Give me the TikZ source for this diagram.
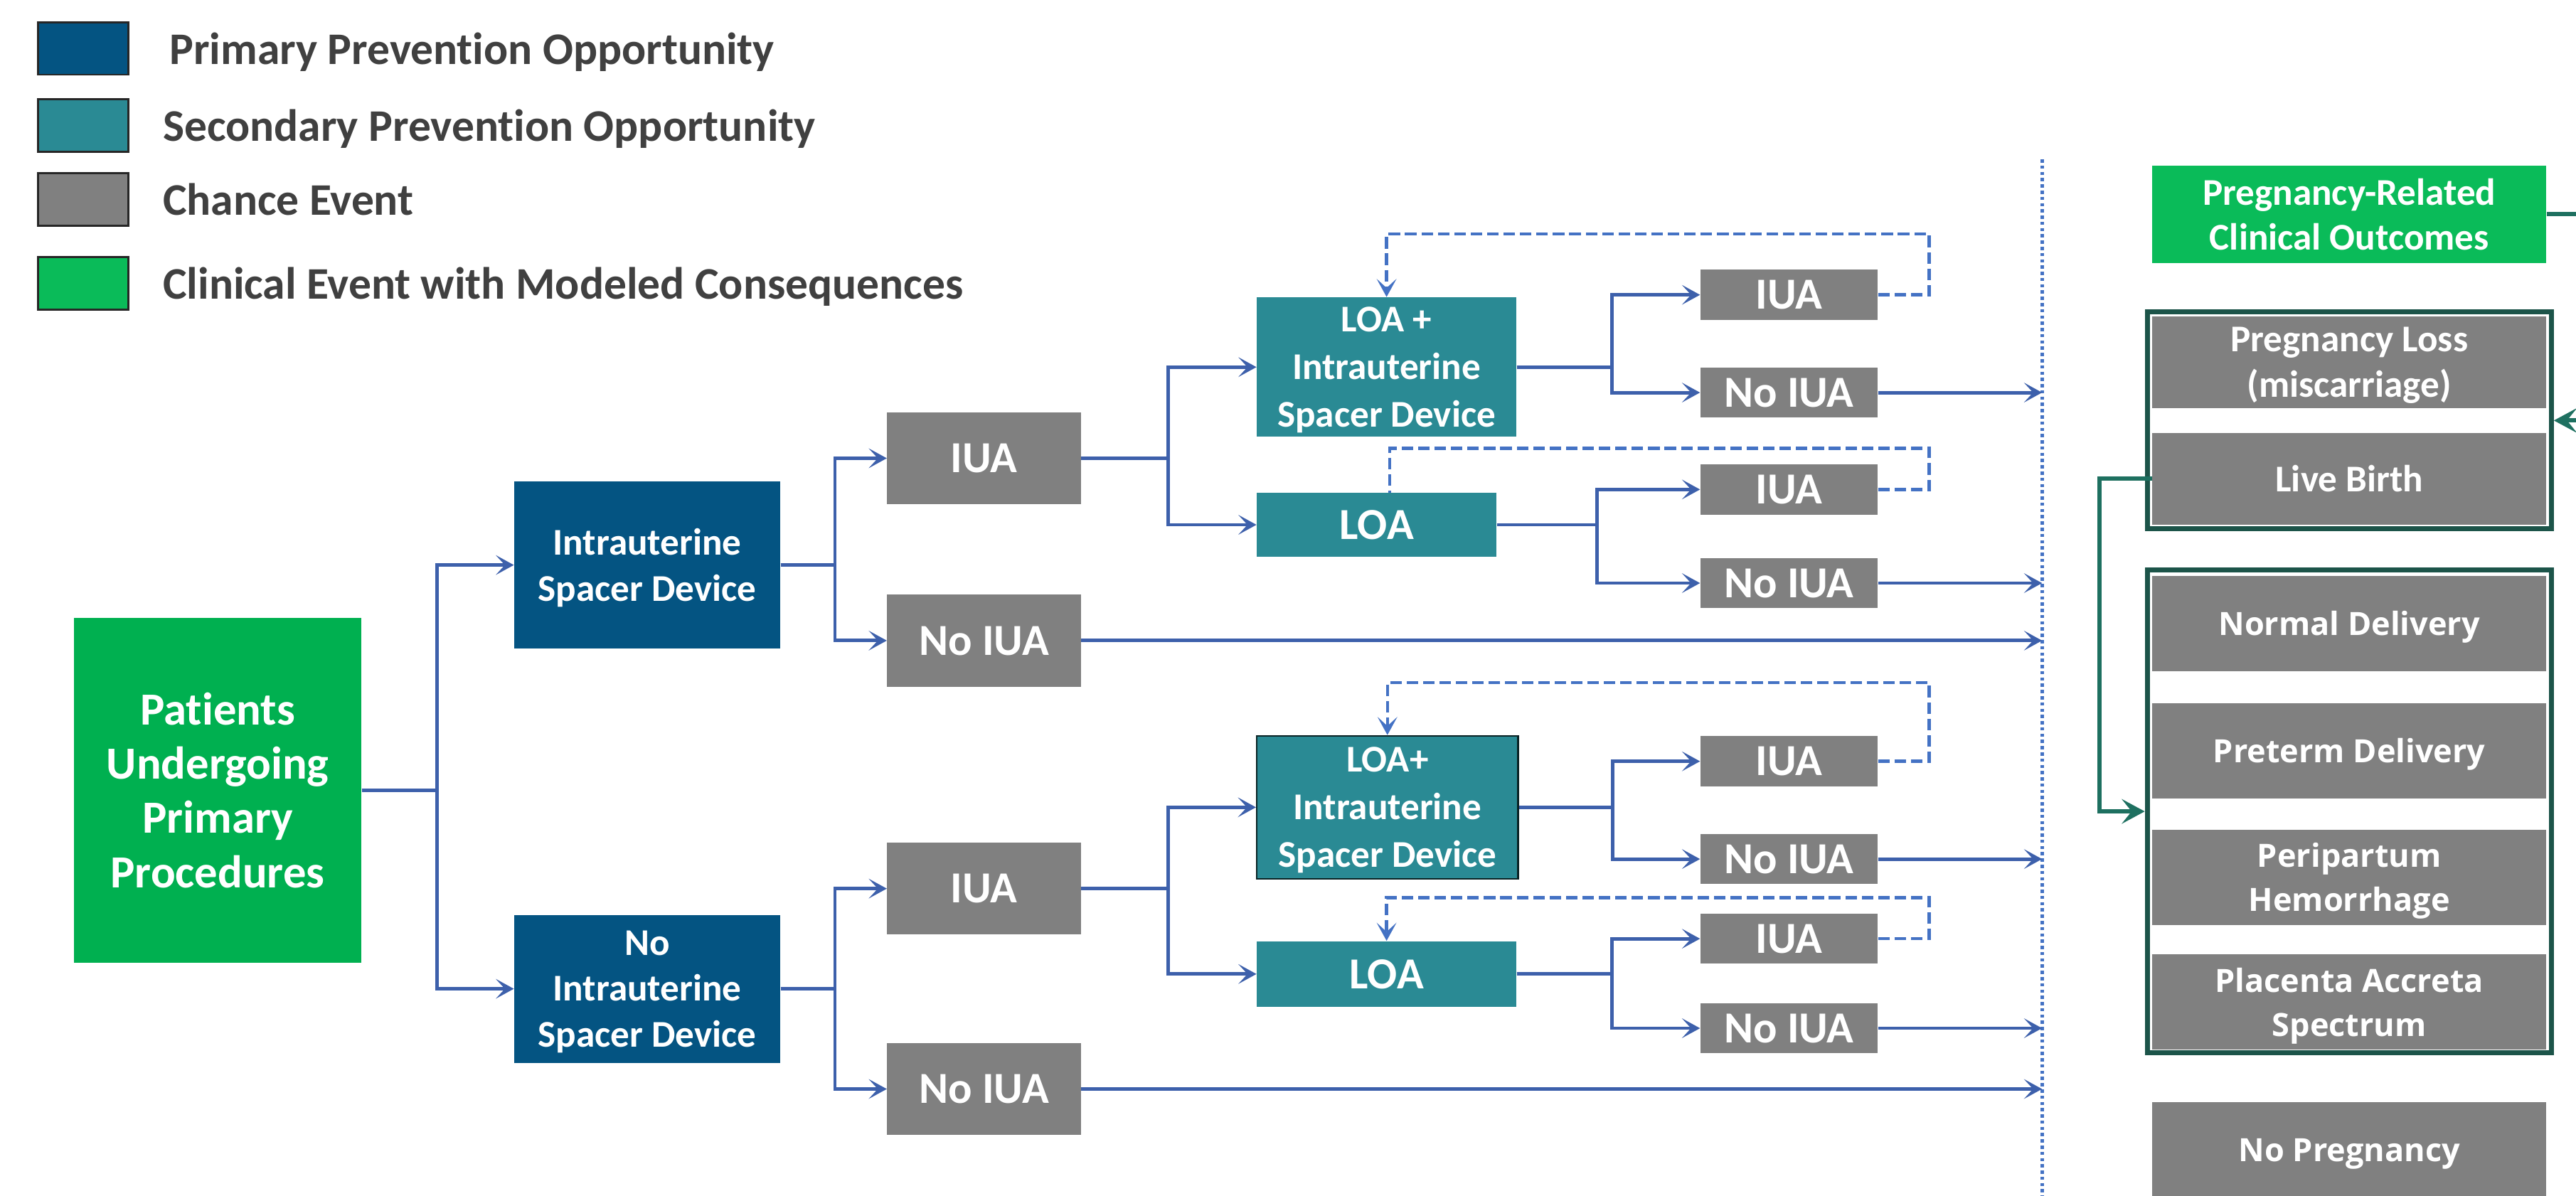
\documentclass[tikz,border=0pt]{standalone}
\usepackage{fontspec}
\usepackage{xcolor}
\usepackage{tikz}
\setmainfont{Carlito}[Ligatures=NoCommon]
\newfontfamily\wideface{Open Sans}
\usetikzlibrary{arrows.meta,shapes,calc}

\definecolor{primblue}{RGB}{4,84,130}
\definecolor{secteal}{RGB}{42,138,148}
\definecolor{chancegray}{RGB}{128,128,128}
\definecolor{clingreen}{RGB}{0,176,80}
\definecolor{lightgreen}{RGB}{10,187,89}
\definecolor{linkblue}{RGB}{61,96,171}
\definecolor{loopblue}{RGB}{68,114,196}
\definecolor{darkteal}{RGB}{28,84,73}
\definecolor{linkteal}{RGB}{30,112,96}
\definecolor{legtext}{RGB}{64,64,64}

\begin{document}
\begin{tikzpicture}[x=1pt,y=-1pt]
    \tikzset{box/.style = {shape=rectangle,inner sep=0pt,align=center,text=white,text depth=0pt}}
    \tikzset{primary/.style = {box,fill=primblue,minimum width=162,font=\fontsize{23}{28}\selectfont\bfseries}}
    \tikzset{secondary/.style = {box,fill=secteal,font=\fontsize{23}{29}\selectfont\bfseries}}
    \tikzset{chance/.style = {box,fill=chancegray,font=\fontsize{27}{32}\selectfont\bfseries}}
    \tikzset{outcome/.style = {box,fill=chancegray,minimum width=240,minimum height=58,font=\wideface\fontsize{19.5}{27}\selectfont\bfseries}}
    \tikzset{legbox/.style = {shape=rectangle,draw=black!85,line width=1.2pt,minimum width=55,minimum height=32}}
    \tikzset{legtext/.style = {text=legtext,inner sep=0pt,anchor=west,text depth=0pt,font=\fontsize{27.5}{32}\selectfont\bfseries}}
    \tikzset{group/.style = {shape=rectangle,draw=darkteal,line width=3pt,minimum width=246}}
    \tikzset{edge/.style = {draw=linkblue,line width=2.1pt,-{Stealth[length=11pt,width=12pt,inset=5.5pt]}}}
    \tikzset{back/.style = {draw=loopblue,line width=1.9pt,dash pattern=on 7pt off 3pt}}
    \tikzset{tealedge/.style = {draw=linkteal,line width=2.6pt,-{Stealth[length=14pt,width=15pt,inset=6pt]}}}

    \useasboundingbox (0,0) rectangle (1568,728);

    % legend
    \foreach \c/\x/\y/\t [count=\i] in {primblue/103/29.5/Primary Prevention Opportunity,
                                       secteal/99/76.5/Secondary Prevention Opportunity,
                                       chancegray/99/121.5/Chance Event,
                                       lightgreen/99/172.5/Clinical Event with Modeled Consequences}
    {
      \node[legbox,fill=\c] (lb\i) at (50.5,\y) {};
      \node[legtext] (lt\i) at (\x,\y) {\t};
    }

    % tree
    \node[box,fill=clingreen,minimum width=175,minimum height=210,font=\fontsize{28}{33}\selectfont\bfseries] (pat) at (132.5,481) {Patients\\Undergoing\\Primary\\Procedures};
    \node[primary,minimum height=102] (isd) at (394,344) {Intrauterine\\Spacer Device};
    \node[primary,minimum height=90] (nisd) at (394,602) {No\\Intrauterine\\Spacer Device};

    \node[chance,minimum width=118,minimum height=56] (iua1) at (599,279) {IUA};
    \node[chance,minimum width=118,minimum height=56] (niua1) at (599,390) {No IUA};
    \node[chance,minimum width=118,minimum height=56] (iua2) at (599,541) {IUA};
    \node[chance,minimum width=118,minimum height=56] (niua2) at (599,663) {No IUA};

    \node[secondary,minimum width=158,minimum height=85] (loaisd1) at (844,223.5) {LOA +\\Intrauterine\\Spacer Device};
    \node[secondary,minimum width=146,minimum height=39,font=\fontsize{27}{32}\selectfont\bfseries] (loa1) at (838,319.5) {LOA};
    \node[secondary,draw=black!75!secteal,line width=1pt,minimum width=159,minimum height=87] (loaisd2) at (844.5,491.5) {LOA+\\Intrauterine\\Spacer Device};
    \node[secondary,minimum width=158,minimum height=40,font=\fontsize{27}{32}\selectfont\bfseries] (loa2) at (844,593) {LOA};

    \foreach \n/\y/\t in {a1/179.5/IUA, b1/239/No IUA, a2/298/IUA, b2/355/No IUA,
                          a3/463.5/IUA, b3/523/No IUA, a4/571.5/IUA, b4/626/No IUA}
    {
      \node[chance,minimum width=108,minimum height=30.5] (\n) at (1089,\y) {\t};
    }

    % branches
    \foreach \t in {isd,nisd} {\draw[edge] (pat.east) -- ++(46,0) |- (\t.west);}
    \foreach \t in {iua1,niua1} {\draw[edge] (isd.east) -- ++(33,0) |- (\t.west);}
    \foreach \t in {iua2,niua2} {\draw[edge] (nisd.east) -- ++(33,0) |- (\t.west);}
    \foreach \t in {loaisd1,loa1} {\draw[edge] (iua1.east) -- ++(53,0) |- (\t.west);}
    \foreach \t in {loaisd2,loa2} {\draw[edge] (iua2.east) -- ++(53,0) |- (\t.west);}
    \foreach \t in {a1,b1} {\draw[edge] (loaisd1.east) -- ++(58,0) |- (\t.west);}
    \foreach \t in {a2,b2} {\draw[edge] (loa1.east) -- ++(61,0) |- (\t.west);}
    \foreach \t in {a3,b3} {\draw[edge] (loaisd2.east) -- ++(57,0) |- (\t.west);}
    \foreach \t in {a4,b4} {\draw[edge] (loa2.east) -- ++(58,0) |- (\t.west);}

    % repeat loops
    \draw[back,-{Stealth[length=11pt,width=12pt,inset=5.5pt]}] (a1.east) -- ++(31,0) -- ++(0,-37) -| (loaisd1.north);
    \draw[back] (a2.east) -- ++(31,0) -- ++(0,-25) -| ([xshift=8pt]loa1.north);
    \draw[back,-{Stealth[length=11pt,width=12pt,inset=5.5pt]}] (a3.east) -- ++(31,0) -- ++(0,-48) -| (loaisd2.north);
    \draw[back,-{Stealth[length=11pt,width=12pt,inset=5.5pt]}] (a4.east) -- ++(31,0) -- ++(0,-25) -| (loa2.north);

    % divider
    \coordinate (dtop) at (1243,97);
    \coordinate (dbot) at (1243,730);
    \draw[draw=loopblue,line width=2.2pt,dash pattern=on 2pt off 1.8pt] (dtop) -- (dbot);
    \foreach \s in {b1,b2,niua1,b3,b4,niua2} {\draw[edge] (\s.east) -- (\s.east -| dtop);}

    % outcomes
    \node[box,fill=lightgreen,minimum width=240,minimum height=59,font=\fontsize{23}{27}\selectfont\bfseries] (prc) at (1430,130.5) {Pregnancy-Related\\Clinical Outcomes};
    \node[group,minimum height=132] (grp1) at (1430,256) {};
    \node[box,fill=chancegray,minimum width=240,minimum height=56,font=\fontsize{23}{28}\selectfont\bfseries] (loss) at (1430,220.5) {Pregnancy Loss\\(miscarriage)};
    \node[box,fill=chancegray,minimum width=240,minimum height=56,font=\fontsize{23}{28}\selectfont\bfseries] (live) at (1430,291.5) {Live Birth};
    \node[group,minimum height=294] (grp2) at (1430,494) {};
    \node[outcome] (nd) at (1430,379.5) {Normal Delivery};
    \node[outcome] (pd) at (1430,457) {Preterm Delivery};
    \node[outcome] (ph) at (1430,534) {Peripartum\\Hemorrhage};
    \node[outcome] (pas) at (1430,610) {Placenta Accreta\\Spectrum};
    \node[outcome] (npreg) at (1430,700) {No Pregnancy};

    \coordinate (rout) at (1580,130.5);
    \coordinate (rin) at (1580,256);
    \draw[draw=linkteal,line width=2.6pt] (prc.east) -- (rout);
    \draw[tealedge] (rin) -- (grp1.east);
    \draw[tealedge] (live.west) -- ++(-32,0) |- (grp2.west);

\end{tikzpicture}
\end{document}
